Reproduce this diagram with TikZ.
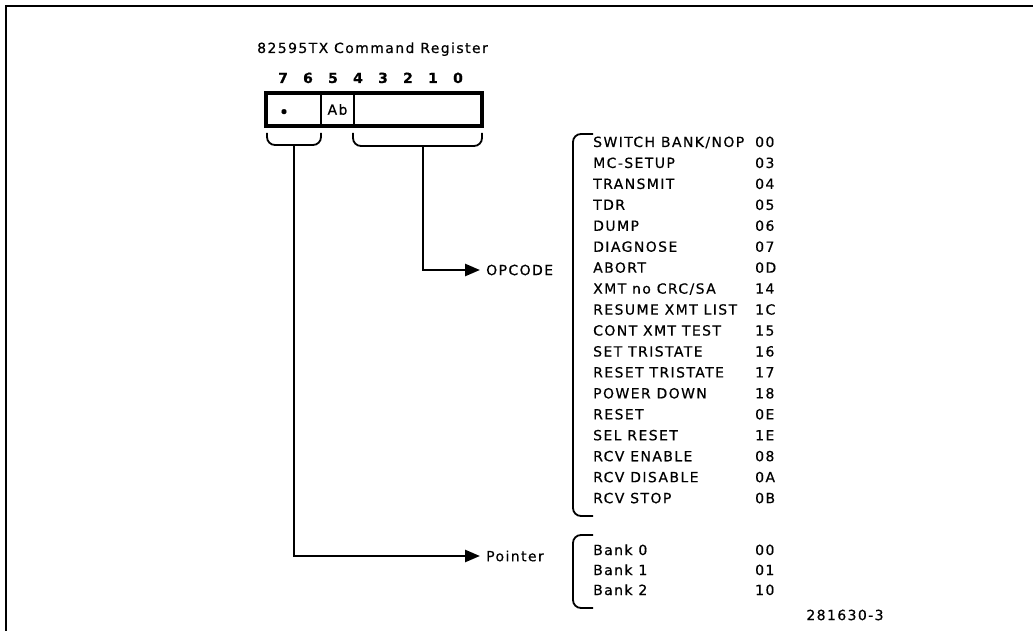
\documentclass[tikz,border=0pt]{standalone}
\usepackage{fontspec}
\setmainfont[LetterSpace=10,FakeBold=0.5]{DejaVu Sans}
\usetikzlibrary{arrows.meta,positioning}

\begin{document}
\begin{tikzpicture}[x=1pt,y=-1pt,
  lbl/.style={font=\fontsize{14}{16}\selectfont, inner sep=0pt},
  bitno/.style={lbl, font=\fontsize{14}{16}\selectfont\bfseries, anchor=base},
  field/.style={draw, line width=1.6pt, minimum height=33pt, inner sep=0pt, outer sep=0pt, lbl},
  bracewire/.style={line width=1.8pt, rounded corners=8pt},
  feed/.style={line width=2.6pt, -{Triangle[length=15pt,width=12pt]}}]
  \useasboundingbox (0,0) rectangle (1033,631);
  % frame
  \draw[line width=2.4pt] (6,631) -- (6,6) -- (1033,6);

  % register
  \node[lbl, anchor=base west] (title) at (257,53) {82595TX Command Register};
  \foreach \b in {7,6,...,0}{\node[bitno] (bit\b) at ({283+25*(7-\b)},83) {\b};}
  \node[field, minimum width=55pt] (fptr) at (293.5,109.5) {};
  \node[field, minimum width=33pt, right=0pt of fptr] (fab) {Ab};
  \node[field, minimum width=128pt, right=0pt of fab] (fop) {};
  \draw[line width=3.4pt] (fptr.north west) rectangle (fop.south east);
  \node[font=\fontsize{14}{14}\selectfont\bfseries, inner sep=0pt] (dot) at (284,113) {•};

  % braces under the fields
  \draw[bracewire] (267,133) -- (267,145) -- (321,145) -- (321,133);
  \draw[bracewire] (353,133) -- (353,146) -- (482,146) -- (482,133);
  \coordinate (ptrstem) at (294,145);
  \coordinate (opstem) at (423,146);

  \node[lbl, anchor=west, inner xsep=6pt] (opcode) at (480,270) {OPCODE};
  \node[lbl, anchor=west, inner xsep=6pt] (pointer) at (480,556) {Pointer};
  \draw[feed] (opstem) |- (opcode.west);
  \draw[feed] (ptrstem) |- (pointer.west);

  % opcode list
  \draw[bracewire] (593,134) -- (573,134) -- (573,516) -- (593,516);
  \foreach \name/\code [count=\i from 0] in {{SWITCH BANK/NOP}/00, MC-SETUP/03,
      TRANSMIT/04, TDR/05, DUMP/06, DIAGNOSE/07, ABORT/0D, {XMT no CRC/SA}/14,
      RESUME XMT LIST/1C, CONT XMT TEST/15, SET TRISTATE/16, RESET TRISTATE/17,
      POWER DOWN/18, RESET/0E, SEL RESET/1E, RCV ENABLE/08, RCV DISABLE/0A,
      RCV STOP/0B}
    {\node[lbl, anchor=base west] (op\i) at (593,{147+20.95*\i}) {\name};
     \node[lbl, anchor=base west] (opc\i) at (755,{147+20.95*\i}) {\code};}

  % bank list
  \draw[bracewire] (593,535) -- (573,535) -- (573,608) -- (593,608);
  \foreach \bank/\code [count=\i from 0] in {0/00, 1/01, 2/10}
    {\node[lbl, anchor=base west] (bk\i) at (593,{555+20*\i}) {Bank \bank};
     \node[lbl, anchor=base west] (bkc\i) at (755,{555+20*\i}) {\code};}

  \node[lbl] (figno) at (845,615) {281630-3};
\end{tikzpicture}
\end{document}
